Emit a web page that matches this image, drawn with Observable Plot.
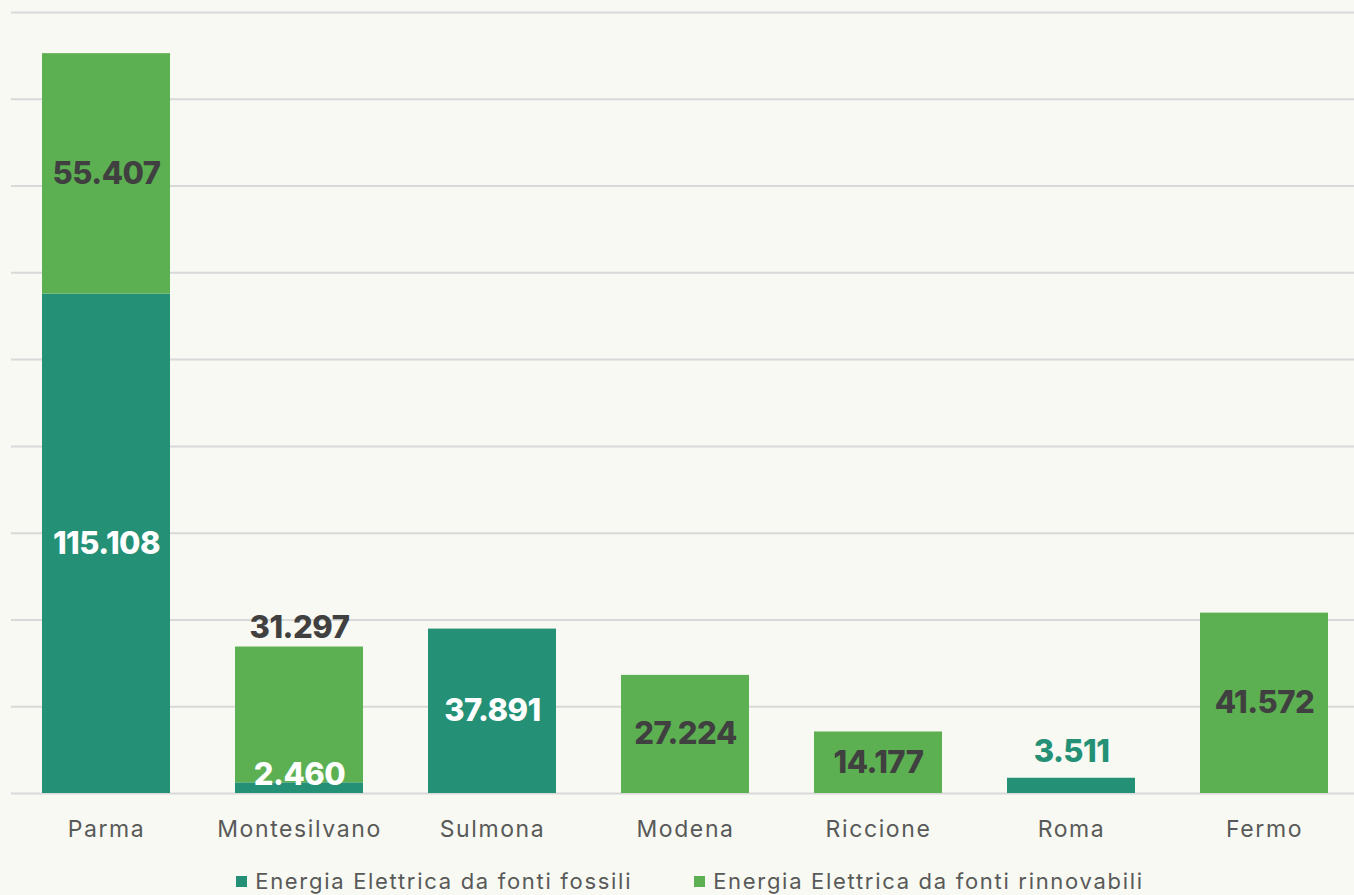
<!DOCTYPE html>
<html>
<head>
<meta charset="utf-8">
<script src="https://cdn.jsdelivr.net/npm/d3@7"></script>
<script src="https://cdn.jsdelivr.net/npm/@observablehq/plot@0.6"></script>
<style>
  html, body { margin: 0; padding: 0; background: #f7f9f2; }
  #chart svg { display: block; }
  #legend { display: flex; justify-content: center; gap: 62px; margin-left: 26px; margin-top: 18px;
    font-family: Inter, sans-serif; font-size: 22px; color: #595959; letter-spacing: 1.7px; }
  #legend .item { display: flex; align-items: center; }
  #legend .sw { width: 11px; height: 11px; margin-right: 8px; }
</style>
</head>
<body>
<div id="chart"></div>
<div id="legend"></div>
<script>
const cities = ["Parma", "Montesilvano", "Sulmona", "Modena", "Riccione", "Roma", "Fermo"];
const fossil = [115108, 2460, 37891, 0, 0, 3511, 0];
const renewable = [55407, 31297, 0, 27224, 14177, 0, 41572];
const seriesNames = ["Energia Elettrica da fonti fossili", "Energia Elettrica da fonti rinnovabili"];
const seriesColors = ["#249075", "#5cb052"];
const yTicks = [0, 20000, 40000, 60000, 80000, 100000, 120000, 140000, 160000, 180000];

const fmt = d3.formatLocale({decimal: ",", thousands: ".", grouping: [3], currency: ["", "€"]}).format(",d");

const rows = [];
cities.forEach((c, i) => {
  rows.push({city: c, series: seriesNames[0], value: fossil[i]});
  rows.push({city: c, series: seriesNames[1], value: renewable[i]});
});

// labels derived from data
const SMALL = 5000;
const inside = [], pushedUp = [], aboveSingle = [], aboveSmall = [];
cities.forEach((c, i) => {
  const f = fossil[i], r = renewable[i];
  if (f > 0) {
    if (f >= SMALL) inside.push({city: c, y: f / 2, text: fmt(f), color: "#ffffff"});
    else if (r > 0) aboveSmall.push({city: c, y: f, text: fmt(f), color: "#ffffff"});
    else aboveSingle.push({city: c, y: f, text: fmt(f), color: seriesColors[0]});
  }
  if (r > 0) {
    if (f > 0 && f < SMALL) pushedUp.push({city: c, y: f + r, text: fmt(r), color: "#404040"});
    else inside.push({city: c, y: f + r / 2, text: fmt(r), color: "#404040"});
  }
});

const labelFont = {fontFamily: "Inter, sans-serif", fontWeight: 800, fontSize: 31};

const chart = Plot.plot({
  width: 1354,
  height: 850,
  marginTop: 12,
  marginBottom: 57,
  marginLeft: 11,
  marginRight: 0,
  style: {background: "transparent", fontFamily: "Inter, sans-serif"},
  x: {domain: cities, range: [9, 1360], paddingInner: 0.337, paddingOuter: 0.166, label: null},
  y: {domain: [0, 180000], axis: null},
  color: {domain: seriesNames, range: seriesColors},
  marks: [
    Plot.ruleY(yTicks, {stroke: "#d9d9d9", strokeWidth: 2}),
    Plot.barY(rows, {x: "city", y: "value", fill: "series"}),
    Plot.text(inside, {x: "city", y: "y", text: "text", fill: "color", ...labelFont}),
    Plot.text(aboveSmall, {x: "city", y: "y", text: "text", fill: "color", lineAnchor: "bottom", dy: 2, ...labelFont}),
    Plot.text(pushedUp, {x: "city", y: "y", text: "text", fill: "color", lineAnchor: "bottom", dy: -9, ...labelFont}),
    Plot.text(aboveSingle, {x: "city", y: "y", text: "text", fill: "color", lineAnchor: "bottom", dy: -16, ...labelFont}),
    Plot.axisX({tickSize: 0, tickPadding: 27, fontSize: 23, fill: "#595959", label: null})
  ]
});
d3.select(chart).selectAll("g[aria-label='x-axis tick label'] text").attr("letter-spacing", "1.6px");
d3.select(chart).selectAll("g[aria-label='text'] text").attr("letter-spacing", "-0.5px");
document.getElementById("chart").appendChild(chart);

const legend = document.getElementById("legend");
seriesNames.forEach((n, i) => {
  const item = document.createElement("div");
  item.className = "item";
  const sw = document.createElement("span");
  sw.className = "sw";
  sw.style.background = seriesColors[i];
  const t = document.createElement("span");
  t.textContent = n;
  item.appendChild(sw); item.appendChild(t);
  legend.appendChild(item);
});
</script>
</body>
</html>
